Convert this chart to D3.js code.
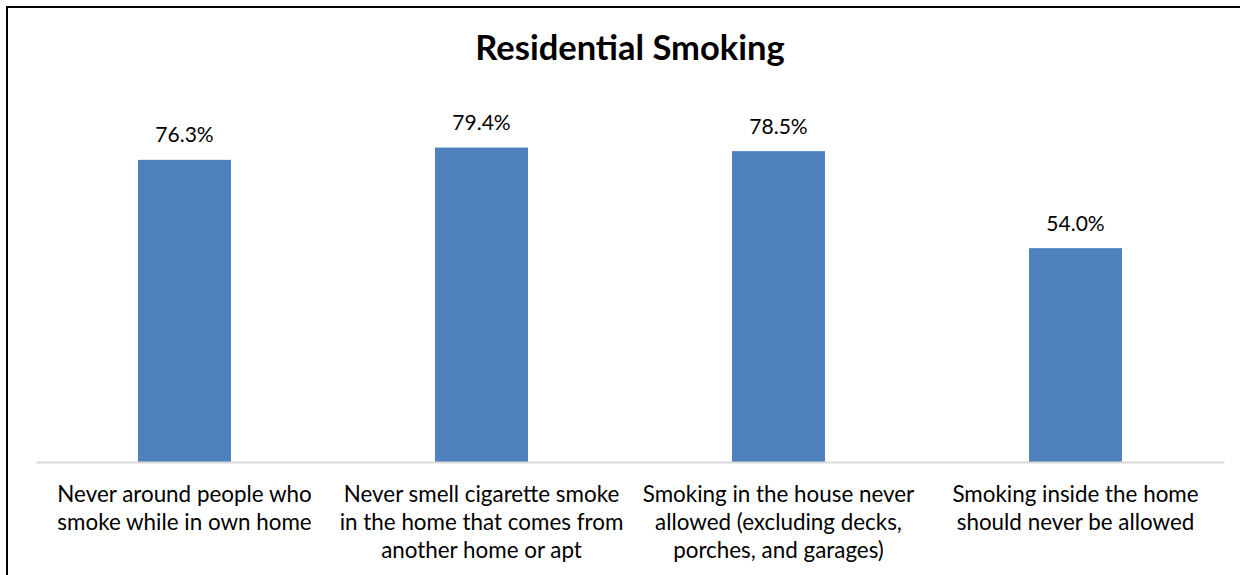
<!DOCTYPE html>
<html>
<head>
<meta charset="utf-8">
<script src="https://cdn.jsdelivr.net/npm/d3@7"></script>
<style>
  html, body { margin: 0; padding: 0; background: #fff; }
  svg { display: block; }
  text { font-family: Lato, "Open Sans", sans-serif; fill: #000; }
</style>
</head>
<body>
<svg id="chart" width="1240" height="575"></svg>
<script>
// Survey results: share of respondents for each residential smoking statement
const categories = [
  ["Never around people who", "smoke while in own home"],
  ["Never smell cigarette smoke", "in the home that comes from", "another home or apt"],
  ["Smoking in the house never", "allowed (excluding decks,", "porches, and garages)"],
  ["Smoking inside the home", "should never be allowed"]
];
const values = [76.3, 79.4, 78.5, 54.0];
const valueLabels = ["76.3%", "79.4%", "78.5%", "54.0%"];
const title = "Residential Smoking";

const svg = d3.select("#chart");
const W = 1240, H = 575;
const plot = { left: 36, right: 1224, top: 66, bottom: 462 };

// Frame around the chart area
svg.append("path")
  .attr("d", `M7,${H + 5} V7 H${W + 5}`)
  .attr("fill", "none")
  .attr("stroke", "#000")
  .attr("stroke-width", 2);

const x = d3.scaleBand()
  .domain(d3.range(categories.length))
  .range([plot.left, plot.right])
  .paddingInner(0.687)
  .paddingOuter(0.3435);

const y = d3.scaleLinear()
  .domain([0, 100])
  .range([plot.bottom, plot.top]);

// Bars
svg.append("g").selectAll("rect")
  .data(values)
  .join("rect")
  .attr("x", (d, i) => x(i))
  .attr("y", d => y(d))
  .attr("width", x.bandwidth())
  .attr("height", d => y(0) - y(d))
  .attr("fill", "#4f81bd");

// Category axis line
const axis = svg.append("g")
  .attr("transform", `translate(0,${plot.bottom})`)
  .call(d3.axisBottom(x).tickSize(0).tickFormat(""));
axis.select(".domain").attr("stroke", "#d9d9d9").attr("stroke-width", 2);

// Value labels above bars
svg.append("g").selectAll("text")
  .data(values)
  .join("text")
  .attr("x", (d, i) => x(i) + x.bandwidth() / 2)
  .attr("y", d => y(d) - 17.5)
  .attr("text-anchor", "middle")
  .attr("font-size", 21)
  .text((d, i) => valueLabels[i]);

// Multi-line category labels
const lab = svg.append("g").selectAll("text")
  .data(categories)
  .join("text")
  .attr("text-anchor", "middle")
  .attr("font-size", 22.4)
  .attr("transform", (d, i) => `translate(${x(i) + x.bandwidth() / 2},502)`);
lab.selectAll("tspan")
  .data(d => d)
  .join("tspan")
  .attr("x", 0)
  .attr("y", (d, j) => j * 28)
  .text(d => d);

// Title
svg.append("text")
  .attr("x", 630)
  .attr("y", 60)
  .attr("text-anchor", "middle")
  .attr("font-size", 34.5)
  .attr("font-weight", "bold")
  .text(title);
</script>
</body>
</html>
